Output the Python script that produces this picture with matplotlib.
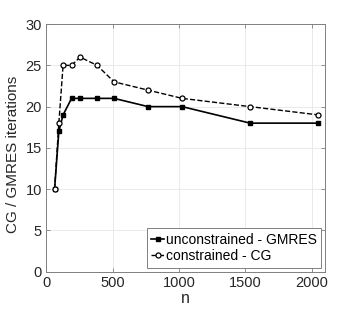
import matplotlib
matplotlib.use("Agg")
import matplotlib.pyplot as plt

plt.rcParams['font.family'] = ['Liberation Sans', 'DejaVu Sans']

n_gmres = [64, 96, 128, 192, 256, 384, 512, 768, 1024, 1536, 2048]
it_gmres = [10, 17, 19, 21, 21, 21, 21, 20, 20, 18, 18]
n_cg = [64, 96, 128, 192, 256, 384, 512, 768, 1024, 1536, 2048]
it_cg = [10, 18, 25, 25, 26, 25, 23, 22, 21, 20, 19]

xticks = [0, 500, 1000, 1500, 2000]
yticks = [0, 5, 10, 15, 20, 25, 30]

fig = plt.figure(figsize=(3.6, 3.15), dpi=100)
ax = fig.add_axes([0.128, 0.1375, 0.775, 0.786])

ax.plot(n_gmres, it_gmres, '-', color='black', lw=1.2, marker='s', ms=3,
        mfc='black', mec='black', label='unconstrained - GMRES', zorder=3)
ax.plot(n_cg, it_cg, '--', color='black', lw=1.0, marker='o', ms=3.6,
        mfc='white', mec='black', mew=0.9, label='constrained - CG', zorder=4)

ax.set_xlim(0, 2100)
ax.set_ylim(0, 30)
ax.set_xticks(xticks)
ax.set_yticks(yticks)
ax.grid(True, color='#e6e6e6', lw=0.6)
ax.set_axisbelow(True)
for s in ax.spines.values():
    s.set_color('#808080')
    s.set_linewidth(0.7)
ax.tick_params(direction='in', length=3, width=0.6, colors='#808080',
               labelcolor='#262626', labelsize=10.5, pad=3, top=True, right=True)
ax.set_xlabel('n', fontsize=11.5, color='#262626', labelpad=1)
ax.set_ylabel('CG / GMRES iterations', fontsize=11, color='#262626', labelpad=0)
ax.yaxis.set_label_coords(-0.095, 0.475)

leg = ax.legend(loc='lower right', fontsize=10, handlelength=0.9, handletextpad=0.15,
                borderpad=0.3, labelspacing=0.2, fancybox=False, framealpha=1,
                edgecolor='#808080', borderaxespad=0.3)
leg.get_frame().set_linewidth(0.7)

fig.savefig('out.png', dpi=100)
